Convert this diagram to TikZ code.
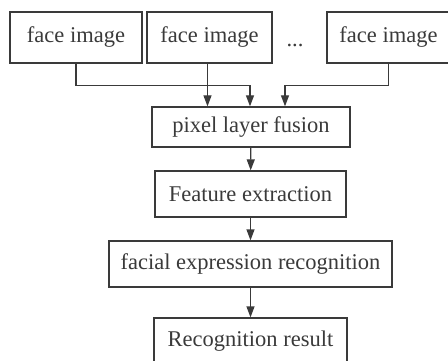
\documentclass[tikz,border=0pt]{standalone}
\usepackage{fontspec}
\setmainfont{Liberation Serif}
\usetikzlibrary{arrows.meta}
\definecolor{ink}{HTML}{3A3A3A}
\tikzset{
  stepbox/.style={draw=ink, line width=1.3pt, text=ink, inner sep=0pt,
    font=\fontsize{22.5}{26}\selectfont, anchor=center},
  arr/.style={draw=ink, line width=1.3pt, -{Triangle[length=11pt,width=8pt]}},
}
\begin{document}
\begin{tikzpicture}[x=1pt,y=1pt]
\useasboundingbox (0,0) rectangle (448,-361);
\clip (0,0) rectangle (448,-361);
\node[stepbox, minimum width=132, minimum height=51] (f1) at (76,-37.5) {face image};
\node[stepbox, minimum width=125, minimum height=51] (f2) at (209.5,-37.5) {face image};
\node[text=ink, font=\fontsize{22.5}{26}\selectfont, anchor=base, inner sep=0pt] (dots) at (295,-47) {...};
\node[stepbox, minimum width=123, minimum height=51] (f3) at (388.5,-37.5) {face image};
\node[stepbox, minimum width=198, minimum height=40] (pix) at (251,-127) {pixel layer fusion};
\node[stepbox, minimum width=191, minimum height=46] (feat) at (250.5,-194) {Feature extraction};
\node[stepbox, minimum width=283, minimum height=46] (fer) at (250.5,-264) {facial expression recognition};
\node[stepbox, minimum width=193, minimum height=46] (res) at (250.5,-341) {Recognition result};
\draw[arr] (f1.south) -- ++(0,-22) -| ([xshift=-1]pix.north);
\draw[arr] ([xshift=-2]f2.south) -- ([xshift=-2]f2.south |- pix.north);
\draw[arr] (f3.south) -- ++(0,-22) -| ([xshift=34]pix.north);
\draw[arr] (pix) -- (feat);
\draw[arr] (feat) -- (fer);
\draw[arr] (fer) -- (res);
\end{tikzpicture}
\end{document}
